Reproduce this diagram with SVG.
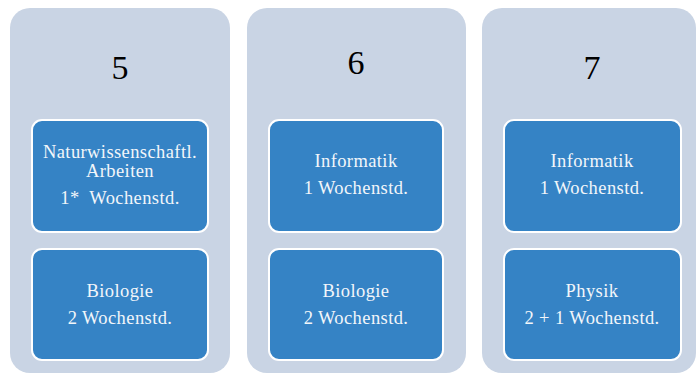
<svg xmlns="http://www.w3.org/2000/svg" width="697" height="375" viewBox="0 0 697 375">
<style>
.panel{fill:#C9D4E4;}
.box{fill:#3583C5;stroke:#FFFFFF;stroke-width:2;}
.num{font-family:"Liberation Serif",serif;font-size:34px;fill:#000;text-anchor:middle;}
.lbl{font-family:"Liberation Serif",serif;font-size:18.5px;fill:#F2F6FA;text-anchor:middle;letter-spacing:0.4px;}
</style>
<rect width="697" height="375" fill="#FFFFFF"/>
<g id="col5">
<rect class="panel" x="10" y="8" width="220" height="365" rx="20"/>
<text class="num" x="120" y="79">5</text>
</g>
<g id="col6">
<rect class="panel" x="247" y="8" width="219" height="365" rx="20"/>
<text class="num" x="356" y="74">6</text>
</g>
<g id="col7">
<rect class="panel" x="482" y="8" width="214" height="365" rx="20"/>
<text class="num" x="592" y="79">7</text>
</g>
<g id="box5a">
<rect class="box" x="32" y="120" width="176" height="112" rx="10"/>
<text class="lbl" x="120" y="158">Naturwissenschaftl.</text>
<text class="lbl" x="120" y="177">Arbeiten</text>
<text class="lbl" x="120" y="204" xml:space="preserve">1*  Wochenstd.</text>
</g>
<g id="box5b">
<rect class="box" x="32" y="249" width="176" height="111" rx="10"/>
<text class="lbl" x="120" y="297">Biologie</text>
<text class="lbl" x="120" y="324">2 Wochenstd.</text>
</g>
<g id="box6a">
<rect class="box" x="269" y="120" width="174" height="112" rx="10"/>
<text class="lbl" x="356" y="167">Informatik</text>
<text class="lbl" x="356" y="194">1 Wochenstd.</text>
</g>
<g id="box6b">
<rect class="box" x="269" y="249" width="174" height="111" rx="10"/>
<text class="lbl" x="356" y="297">Biologie</text>
<text class="lbl" x="356" y="324">2 Wochenstd.</text>
</g>
<g id="box7a">
<rect class="box" x="504" y="120" width="177" height="112" rx="10"/>
<text class="lbl" x="592" y="167">Informatik</text>
<text class="lbl" x="592" y="194">1 Wochenstd.</text>
</g>
<g id="box7b">
<rect class="box" x="504" y="249" width="177" height="111" rx="10"/>
<text class="lbl" x="592" y="297">Physik</text>
<text class="lbl" x="592" y="324">2 + 1 Wochenstd.</text>
</g>
<g id="connectors"></g>
</svg>
